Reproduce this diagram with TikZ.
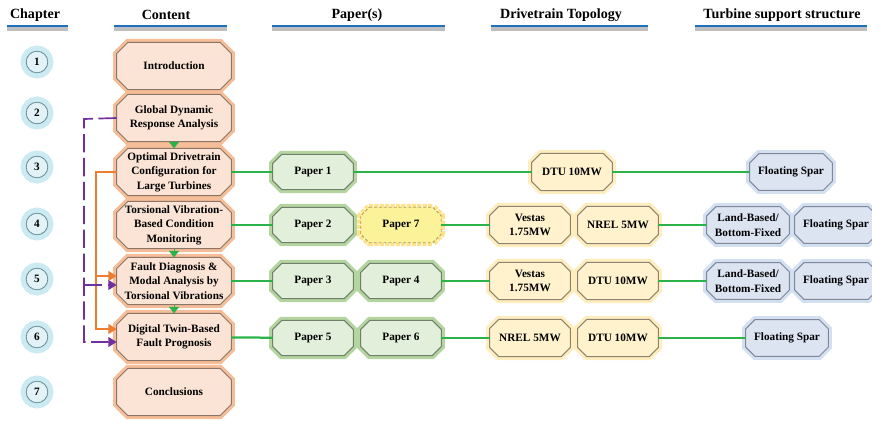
\documentclass[tikz,border=0pt]{standalone}
\usepackage{fontspec}
\setmainfont{Liberation Serif}
\usetikzlibrary{arrows.meta,backgrounds}

\definecolor{contentfill}{HTML}{FBE4D5}
\definecolor{contentglow}{HTML}{F5BD98}
\definecolor{contentedge}{HTML}{8A7566}
\definecolor{paperfill}{HTML}{E2EFDA}
\definecolor{paperglow}{HTML}{B5D5A0}
\definecolor{paperedge}{HTML}{70806A}
\definecolor{newpaperfill}{HTML}{FBF29A}
\definecolor{newpaperglow}{HTML}{FFE38A}
\definecolor{newpaperedge}{HTML}{B09A5A}
\definecolor{drivefill}{HTML}{FFF2CC}
\definecolor{driveglow}{HTML}{FFEDBE}
\definecolor{driveedge}{HTML}{8C8470}
\definecolor{supportfill}{HTML}{DCE4F2}
\definecolor{supportglow}{HTML}{D3E0F1}
\definecolor{supportedge}{HTML}{808898}
\definecolor{chapfill}{HTML}{E2F2F6}
\definecolor{chapglow}{HTML}{CBEAF2}
\definecolor{chapedge}{HTML}{6A9098}
\definecolor{headblue}{HTML}{1F70C1}
\definecolor{linkgreen}{HTML}{2BB34A}
\definecolor{floworange}{HTML}{ED7D31}
\definecolor{flowpurple}{HTML}{7030A0}

\newcommand{\chamferbox}[3]{%
  \path[#2] ([xshift=#3]#1.north west) -- ([xshift=-#3]#1.north east)
    -- ([yshift=-#3]#1.north east) -- ([yshift=#3]#1.south east)
    -- ([xshift=-#3]#1.south east) -- ([xshift=#3]#1.south west)
    -- ([yshift=#3]#1.south west) -- ([yshift=-#3]#1.north west) -- cycle;}

\begin{document}
\begin{tikzpicture}[x=0.025cm,y=-0.025cm]
        \clip (0,0) rectangle (872,420);
        \tikzstyle{every node} = [font=\fontsize{8}{10.3}\selectfont\bfseries, align=center, inner sep=0pt]
        \tikzstyle{head} = [font=\fontsize{10}{12}\selectfont\bfseries]
        \tikzstyle{underline} = [draw=headblue, line width=1.5pt, preaction={draw=black!25, line width=2.5pt, transform canvas={yshift=-2.2pt}}]
        \tikzstyle{chap} = [circle, draw=chapedge, fill=chapfill, line width=0.6pt, minimum size=0.54cm, preaction={draw=chapglow, line width=8pt}]
        \tikzstyle{content} = [minimum width=2.85cm, minimum height=1.17cm]
        \tikzstyle{paper} = [minimum width=2cm, minimum height=0.87cm]
        \tikzstyle{drive} = [minimum width=2cm, minimum height=0.92cm]
        \tikzstyle{support} = [minimum width=2.05cm, minimum height=0.9cm]
        \tikzstyle{contentbox} = [draw=contentedge, fill=contentfill, line width=0.7pt, preaction={draw=contentglow, line width=5pt}]
        \tikzstyle{paperbox} = [draw=paperedge, fill=paperfill, line width=0.7pt, preaction={draw=paperglow, line width=5pt}]
        \tikzstyle{newpaperbox} = [draw=newpaperedge, fill=newpaperfill, line width=0.6pt, dash pattern=on 2pt off 1.5pt, preaction={draw=newpaperglow, line width=5pt, dash pattern=on 3pt off 0.8pt}]
        \tikzstyle{drivebox} = [draw=driveedge, fill=drivefill, line width=0.7pt, preaction={draw=driveglow, line width=5pt}]
        \tikzstyle{supportbox} = [draw=supportedge, fill=supportfill, line width=0.7pt, preaction={draw=supportglow, line width=5pt}]
        \tikzstyle{link} = [draw=linkgreen, line width=1.6pt]
        \tikzstyle{flowdown} = [draw=linkgreen, line width=0.2pt, -{Triangle[length=4.5pt,width=7pt]}]
        \tikzstyle{orangeflow} = [draw=floworange, line width=1.2pt, -{Triangle[length=6pt,width=7pt]}]
        \tikzstyle{purpleflow} = [draw=flowpurple, line width=1.2pt, dash pattern=on 13pt off 4pt, -{Triangle[length=6pt,width=7pt]}]

        \node[head] (hchap) at (35,15) {Chapter};
        \node[head] (hcont) at (166,15) {Content};
        \node[head] (hpaper) at (357,15) {Paper(s)};
        \node[head] (hdrive) at (561,15) {Drivetrain Topology};
        \node[head] (hsupp) at (782,15) {Turbine support structure};
        \foreach \xa/\xb in {7/68, 114/227, 272/445, 491/648, 695/867}
            \draw[underline] (\xa,26) -- (\xb,26);

        \foreach \n/\y in {1/62, 2/113, 3/167, 4/224, 5/279, 6/337, 7/392}
            \node[chap] (ch\n) at (37,\y) {\n};

        \node[content] (ct1) at (174,66) {Introduction};
        \node[content] (ct2) at (174,118) {Global Dynamic\\Response Analysis};
        \node[content] (ct3) at (174,172) {Optimal Drivetrain\\Configuration for\\Large Turbines};
        \node[content] (ct4) at (174,225) {Torsional Vibration-\\Based Condition\\Monitoring};
        \node[content] (ct5) at (174,281) {Fault Diagnosis \&\\Modal Analysis by\\Torsional Vibrations};
        \node[content] (ct6) at (174,337) {Digital Twin-Based\\Fault Prognosis};
        \node[content] (ct7) at (174,392) {Conclusions};

        \node[paper] (p1) at (313,172) {Paper 1};
        \node[paper] (p2) at (313,225) {Paper 2};
        \node[paper] (p7) at (401,225) {Paper 7};
        \node[paper] (p3) at (313,281) {Paper 3};
        \node[paper] (p4) at (401,281) {Paper 4};
        \node[paper] (p5) at (313,338) {Paper 5};
        \node[paper] (p6) at (401,338) {Paper 6};

        \node[drive] (dt1) at (572,172) {DTU 10MW};
        \node[drive] (dt2) at (530,225) {Vestas\\1.75MW};
        \node[drive] (dt3) at (618,225) {NREL 5MW};
        \node[drive] (dt4) at (530,281) {Vestas\\1.75MW};
        \node[drive] (dt5) at (618,281) {DTU 10MW};
        \node[drive] (dt6) at (530,338) {NREL 5MW};
        \node[drive] (dt7) at (618,338) {DTU 10MW};

        \node[support] (ss1) at (791,172) {Floating Spar};
        \node[support] (ss2) at (748,225) {Land-Based/\\Bottom-Fixed};
        \node[support] (ss3) at (836,225) {Floating Spar};
        \node[support] (ss4) at (748,281) {Land-Based/\\Bottom-Fixed};
        \node[support] (ss5) at (836,281) {Floating Spar};
        \node[support] (ss6) at (787,338) {Floating Spar};

        \begin{scope}[on background layer]
            \foreach \nd in {ct1, ct2, ct3, ct4, ct5, ct6, ct7}
                \chamferbox{\nd}{contentbox}{8pt};
            \foreach \nd in {p1, p2, p3, p4, p5, p6}
                \chamferbox{\nd}{paperbox}{6.5pt};
            \chamferbox{p7}{newpaperbox}{6pt};
            \foreach \nd in {dt1, dt2, dt3, dt4, dt5, dt6, dt7}
                \chamferbox{\nd}{drivebox}{6.5pt};
            \foreach \nd in {ss1, ss2, ss3, ss4, ss5, ss6}
                \chamferbox{\nd}{supportbox}{6.5pt};
        \end{scope}

        \foreach \from/\to in {ct3/p1, p1/dt1, dt1/ss1, ct4/p2, p7/dt2, dt3/ss2, ct5/p3, p4/dt4, dt5/ss4, ct6/p5, p6/dt6, dt7/ss6}
            \draw[link] (\from) -- (\to);
        \foreach \from/\to in {ct2/ct3, ct4/ct5, ct5/ct6}
            \draw[flowdown] (\from.south) -- (\to.north);

        \coordinate (obend) at (96,172);
        \coordinate (ojoin) at (96,276);
        \coordinate (oend) at (96,329);
        \draw[orangeflow] (ct3.west) -- (obend) -- (oend) -- (ct6.west |- oend);
        \draw[orangeflow] (ojoin) -- (ct5.west |- ojoin);

        \coordinate (ptop) at (84,119);
        \coordinate (pjoin) at (84,285);
        \coordinate (pend) at (84,342);
        \draw[purpleflow] (ct2.west) -- (ptop) -- (pend) -- (ct6.west |- pend);
        \draw[purpleflow] (pjoin) -- (ct5.west |- pjoin);
\end{tikzpicture}
\end{document}
